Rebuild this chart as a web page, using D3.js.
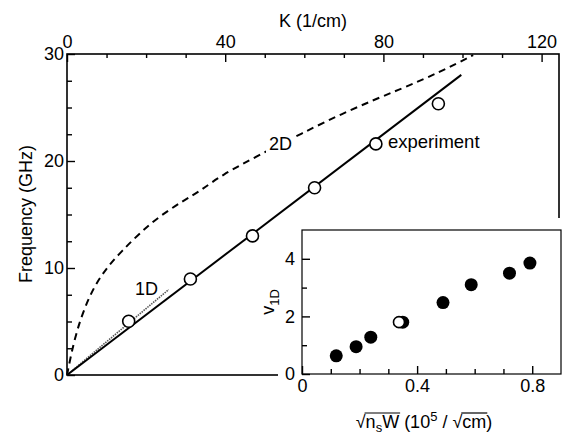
<!DOCTYPE html>
<html>
<head>
<meta charset="utf-8">
<script src="https://cdn.jsdelivr.net/npm/d3@7"></script>
<style>
  body { margin: 0; background: #fff; }
  svg text { font-family: "Liberation Sans", Arial, Helvetica, sans-serif; fill: #000; }
</style>
</head>
<body>
<svg id="graph" width="562" height="437"></svg>
<script>
/*******************************************************************************************/
// Data

var kMajor = [0, 40, 80, 120];
var kMinor = [10, 20, 30, 50, 60, 70, 90, 100, 110];
var fMajor = [0, 10, 20, 30];
var fMinor = [2.5, 5, 7.5, 12.5, 15, 17.5, 22.5, 25, 27.5];

// experiment (open circles)
var expK = [15.6, 31.2, 46.9, 62.6, 78.1, 93.9];
var expF = [5.02, 8.97, 13.0, 17.5, 21.6, 25.35];

// solid fit line
var fitK = [0, 99.7];
var fitF = [0, 28.05];

// 1D (dotted) line
var oneDK = [0, 25.7];
var oneDF = [0, 7.98];

// 2D (dashed) curve
var twoDK = [0, 0.4, 1.26, 2.53, 4.19, 6.72, 10.1, 13.9, 18.5, 23.6, 29.5, 34.5, 38.7, 48.8, 58.9, 71.6, 84.2, 94.3, 102.7];
var twoDF = [0, 0.73, 2.29, 4.15, 6.02, 8.19, 10.06, 11.6, 13.3, 14.9, 16.3, 17.4, 18.6, 20.6, 22.5, 24.8, 26.7, 28.3, 29.9];

// inset
var insX = [0.119, 0.188, 0.239, 0.35, 0.49, 0.588, 0.721, 0.792];
var insV = [0.63, 0.95, 1.28, 1.8, 2.48, 3.1, 3.5, 3.85];
var insOpenX = [0.337];
var insOpenV = [1.8];
var insXMajor = [0, 0.4, 0.8];
var insXMinor = [0.1, 0.2, 0.3, 0.5, 0.6, 0.7];
var insYMajor = [0, 2, 4];
var insYMinor = [1, 3];

/*******************************************************************************************/
// Scales

var svg = d3.select('#graph');
var xScale = d3.scaleLinear().domain([0, 124.4]).range([67, 559]);
var yScale = d3.scaleLinear().domain([0, 30]).range([375, 54]);
var ixScale = d3.scaleLinear().domain([0, 0.9]).range([302, 561]);
var iyScale = d3.scaleLinear().domain([0, 5]).range([374, 230]);

var lineGen = d3.line().x(function(d){ return xScale(d.x) }).y(function(d){ return yScale(d.y) });
var curveGen = d3.line().curve(d3.curveBasis).x(function(d){ return xScale(d.x) }).y(function(d){ return yScale(d.y) });
function pairs(xs, ys){ return xs.map(function(v, i){ return { x: v, y: ys[i] } }) }

/*******************************************************************************************/
// Main frame and axes

svg.append('rect').attr('x', xScale(0)).attr('y', yScale(30))
   .attr('width', 559 - xScale(0)).attr('height', yScale(0) - yScale(30))
   .attr('fill', 'none').attr('stroke', '#000').attr('stroke-width', 1.6);

function styleAxis(g){
  g.select('.domain').remove();
  g.selectAll('line').attr('stroke', '#000').attr('stroke-width', 1.4);
  g.selectAll('text').style('font-size', '18px').attr('fill', '#000');
}

svg.append('g').attr('transform', 'translate(0,' + yScale(30) + ')')
   .call(d3.axisTop(xScale).tickValues(kMajor).tickSize(-8).tickPadding(6)).call(styleAxis);
svg.append('g').attr('transform', 'translate(0,' + yScale(30) + ')')
   .call(d3.axisTop(xScale).tickValues(kMinor).tickSize(-4).tickFormat('')).call(styleAxis);

svg.append('g').attr('transform', 'translate(' + xScale(0) + ',0)')
   .call(d3.axisLeft(yScale).tickValues(fMajor).tickSize(-8).tickPadding(3)).call(styleAxis);
svg.append('g').attr('transform', 'translate(' + xScale(0) + ',0)')
   .call(d3.axisLeft(yScale).tickValues(fMinor).tickSize(-5).tickFormat('')).call(styleAxis);

svg.append('text').attr('x', 313).attr('y', 27).attr('text-anchor', 'middle')
   .style('font-size', '18px').text('K (1/cm)');
svg.append('text').attr('transform', 'translate(32,' + 214 + ') rotate(-90)')
   .attr('text-anchor', 'middle').style('font-size', '18px').text('Frequency (GHz)');

/*******************************************************************************************/
// Curves

svg.append('path').attr('d', curveGen(pairs(twoDK, twoDF)))
   .attr('fill', 'none').attr('stroke', '#000').attr('stroke-width', 2).attr('stroke-dasharray', '7,5');
svg.append('path').attr('d', lineGen(pairs(oneDK, oneDF)))
   .attr('fill', 'none').attr('stroke', '#555').attr('stroke-width', 1.6).attr('stroke-dasharray', '1.5,1');
svg.append('path').attr('d', lineGen(pairs(fitK, fitF)))
   .attr('fill', 'none').attr('stroke', '#000').attr('stroke-width', 2);

svg.selectAll('.exp').data(pairs(expK, expF)).enter().append('circle').attr('class', 'exp')
   .attr('cx', function(d){ return xScale(d.x) }).attr('cy', function(d){ return yScale(d.y) })
   .attr('r', 6).attr('fill', '#fff').attr('stroke', '#000').attr('stroke-width', 1.6);

// 2D label sits on a white patch over the dashed curve
var bgRect = svg.append('rect').attr('fill', '#fff');
var lab2D = svg.append('text').attr('x', 269).attr('y', 150).style('font-size', '18px').text('2D');
var bb = lab2D.node().getBBox();
bgRect.attr('x', bb.x - 3).attr('y', bb.y).attr('width', bb.width + 6).attr('height', bb.height);

svg.append('text').attr('x', 135).attr('y', 295).style('font-size', '18px').text('1D');
svg.append('text').attr('x', 388).attr('y', 148).style('font-size', '18.5px').text('experiment');

/*******************************************************************************************/
// Inset

svg.append('rect').attr('x', 278).attr('y', 218).attr('width', 290).attr('height', 230).attr('fill', '#fff');
svg.append('rect').attr('x', ixScale(0)).attr('y', iyScale(5))
   .attr('width', ixScale(0.9) - ixScale(0)).attr('height', iyScale(0) - iyScale(5))
   .attr('fill', 'none').attr('stroke', '#000').attr('stroke-width', 1.2);

var inset = svg.append('g');
inset.append('g').attr('transform', 'translate(0,' + iyScale(0) + ')')
   .call(d3.axisBottom(ixScale).tickValues(insXMajor).tickSize(-8).tickPadding(5)
     .tickFormat(function(d){ return d === 0 ? '0' : d3.format('.1f')(d) })).call(styleAxis);
inset.append('g').attr('transform', 'translate(0,' + iyScale(0) + ')')
   .call(d3.axisBottom(ixScale).tickValues(insXMinor).tickSize(-5).tickFormat('')).call(styleAxis);
inset.append('g').attr('transform', 'translate(' + ixScale(0) + ',0)')
   .call(d3.axisLeft(iyScale).tickValues(insYMajor).tickSize(-8).tickPadding(7).tickFormat(d3.format('d'))).call(styleAxis);
inset.append('g').attr('transform', 'translate(' + ixScale(0) + ',0)')
   .call(d3.axisLeft(iyScale).tickValues(insYMinor).tickSize(-5).tickFormat('')).call(styleAxis);

inset.selectAll('.fill').data(pairs(insX, insV)).enter().append('circle').attr('class', 'fill')
   .attr('cx', function(d){ return ixScale(d.x) }).attr('cy', function(d){ return iyScale(d.y) })
   .attr('r', 6.5).attr('fill', '#000');
inset.selectAll('.open').data(pairs(insOpenX, insOpenV)).enter().append('circle').attr('class', 'open')
   .attr('cx', function(d){ return ixScale(d.x) }).attr('cy', function(d){ return iyScale(d.y) })
   .attr('r', 5.5).attr('fill', '#fff').attr('stroke', '#000').attr('stroke-width', 1.6);

// v_1D
var vl = inset.append('text').attr('transform', 'translate(274,302) rotate(-90)')
   .attr('text-anchor', 'middle').style('font-size', '18px');
vl.append('tspan').text('v');
vl.append('tspan').attr('dy', 5).style('font-size', '13px').text('1D');

// sqrt(ns W) (10^5 / sqrt(cm))
var xl = inset.append('text').attr('x', 424).attr('y', 428).attr('text-anchor', 'middle').style('font-size', '18px');
xl.append('tspan').text('\u221a');
xl.append('tspan').text('n');
xl.append('tspan').attr('dy', 4).style('font-size', '13px').text('s');
xl.append('tspan').attr('dy', -4).text('W');
xl.append('tspan').text(' (10');
xl.append('tspan').attr('dy', -7).style('font-size', '13px').text('5');
xl.append('tspan').attr('dy', 7).text(' / \u221a');
xl.append('tspan').text('cm');
xl.append('tspan').text(')');

var node = xl.node();
function over(a, b){
  var x0 = node.getEndPositionOfChar(a).x - 1;
  var x1 = node.getEndPositionOfChar(b).x + 1;
  inset.append('line').attr('x1', x0).attr('x2', x1).attr('y1', 413).attr('y2', 413)
     .attr('stroke', '#000').attr('stroke-width', 1.2);
}
over(0, 3);
over(12, 14);
</script>
</body>
</html>
